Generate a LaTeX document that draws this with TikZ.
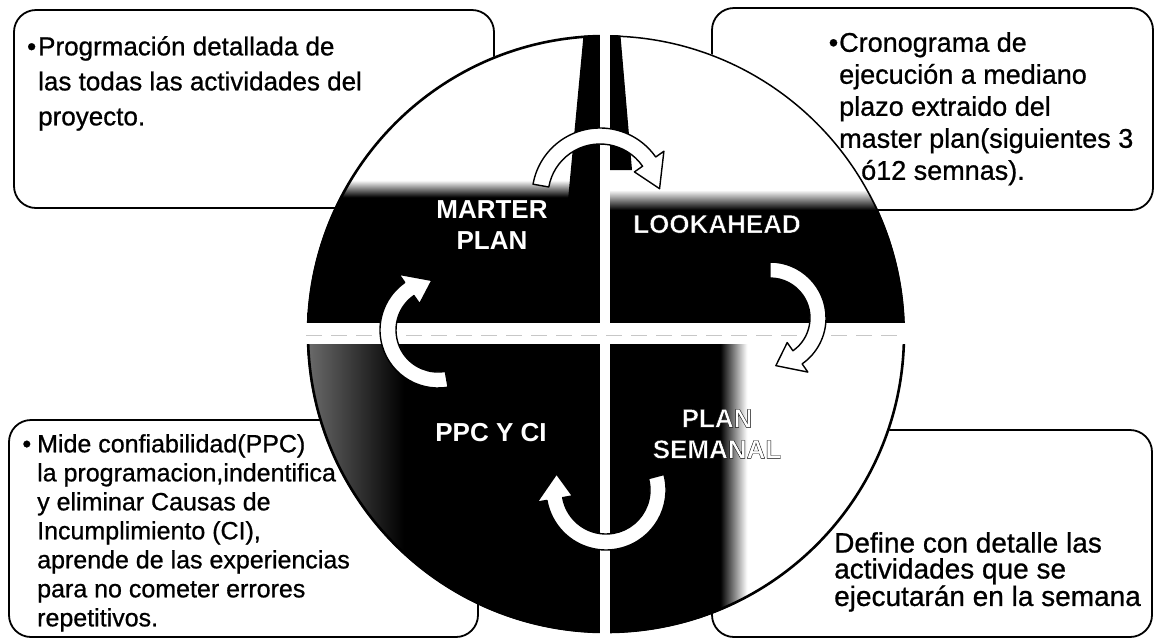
\documentclass[tikz,border=0pt]{standalone}
\usepackage{fontspec}
\setmainfont{Liberation Sans}
\newfontfamily\notefont{Liberation Sans}[FakeBold=0.8]
\newfontfamily\ringfont{Liberation Sans}[BoldFeatures={FakeBold=1.4}]
\usetikzlibrary{positioning}

% fades of the four quarters
\pgfdeclareverticalshading{tlfade}{100bp}{color(0bp)=(black); color(47.5bp)=(black); color(50.3bp)=(white); color(100bp)=(white)}
\pgfdeclareverticalshading{trfade}{100bp}{color(0bp)=(black); color(45.4bp)=(black); color(48.7bp)=(white); color(100bp)=(white)}
\pgfdeclarehorizontalshading{brfade}{100bp}{color(0bp)=(black); color(43.8bp)=(black); color(48.2bp)=(white); color(100bp)=(white)}
\pgfdeclarehorizontalshading{blfade}{100bp}{color(0bp)=(black!55); color(25bp)=(black!55); color(42bp)=(black); color(100bp)=(black)}

% black rim round the white label letters
\newcommand{\rim}{\special{pdf:literal direct 0 G}}

% curved white arrow: centre x, centre y, radius, from angle, to angle
\newcommand{\wheelarrow}[5]{%
  \pgfmathsetmacro{\wro}{#3+8}\pgfmathsetmacro{\wri}{#3-8}%
  \pgfmathsetmacro{\who}{#3+18}\pgfmathsetmacro{\whi}{#3-18}%
  \pgfmathsetmacro{\wtip}{#5+28}%
  \filldraw[arrowbody, shift={(#1,#2)}]
    (#4:\wro) arc[start angle=#4, end angle=#5, radius=\wro]
    -- (#5:\who) -- (\wtip:#3) -- (#5:\whi) -- (#5:\wri)
    arc[start angle=#5, end angle=#4, radius=\wri] -- cycle;}

\begin{document}
\begin{tikzpicture}[x=1pt, y=-1pt,
  infobox/.style={draw=black, line width=1.8pt, rounded corners=22pt, fill=white},
  boxtext/.style 2 args={anchor=north west, align=left, inner sep=0pt, font=\notefont\fontsize{#1}{#2}\selectfont},
  steplabel/.style={text=white, align=center, inner sep=0pt, font=\bfseries\fontsize{26}{31}\selectfont},
  rimlabel/.style={steplabel, font=\ringfont\bfseries\fontsize{26}{31}\selectfont},
  arrowbody/.style={fill=white, draw=black, line width=1.4pt, line join=round}]
\useasboundingbox (0,0) rectangle (1161,641);

% note boxes
\draw[infobox] (14,10) rectangle (494,208);
\draw[infobox] (712,8) rectangle (1153,210);
\draw[infobox] (9,420) rectangle (478,637);
\draw[infobox] (712,430) rectangle (1152,637);

% wheel
\begin{scope}
  \clip (606,334) circle[radius=299];
  \shade[shading=tlfade] (300,30) rectangle (606,334);
  \shade[shading=trfade] (606,30) rectangle (910,334);
  \shade[shading=blfade] (300,334) rectangle (606,640);
  \shade[shading=brfade] (606,334) rectangle (910,640);
  % dark strips along the divider
  \fill[black] (584,30) -- (606,30) -- (606,200) -- (568,200) -- cycle;
  \fill[black] (606,30) -- (620,30) -- (632,170) -- (606,170) -- cycle;
\end{scope}
\draw[line width=2.6pt] (606,334) ++(180:298) arc[start angle=180, end angle=270, radius=298];
\draw[line width=1.5pt] (606,334) ++(270:298) arc[start angle=270, end angle=360, radius=298];
\draw[line width=2.6pt] (606,334) ++(0:298) arc[start angle=0, end angle=180, radius=298];

% gaps between the quarters
\fill[white] (600,25) rectangle (610,645);
\fill[white] (295,323) rectangle (915,344);
\draw[black!22, line width=0.6pt, dash pattern=on 16pt off 9pt] (306,335) -- (904,335);

% cycle arrows
\wheelarrow{600}{196}{60}{190}{325}
\wheelarrow{770}{318}{48}{-90}{55}
\wheelarrow{606}{490}{52}{-15}{170}
\wheelarrow{438}{330}{50}{80}{235}

% quarter labels
\node[steplabel] (master) at (492,225) {MARTER\\PLAN};
\node[rimlabel] (lookahead) at (717,224) {\rim LOOKAHEAD};
\node[steplabel] (ppc) at (491,433) {PPC Y CI};
\node[rimlabel] (weekly) at (717,434) {\rim PLAN\\\rim SEMANAL};

% notes
\node[boxtext={26}{35}] (masternote) at (38,36) {\llap{\textbullet\hspace{2pt}}Progrmación detallada de\\las todas las actividades del\\proyecto.};
\node[boxtext={27}{32}] (lookaheadnote) at (839,32) {\llap{\textbullet\hspace{1pt}}Cronograma de\\ejecución a mediano\\plazo extraido del\\master plan(siguientes 3\\\hspace*{22pt}ó12 semnas).};
\node[boxtext={25}{29}] (ppcnote) at (37,434) {\llap{\textbullet\hspace{6pt}}Mide confiabilidad(PPC)\\la programacion,indentifica\\y eliminar Causas de\\Incumplimiento (CI),\\aprende de las experiencias\\para no cometer errores\\repetitivos.};
\node[boxtext={28}{26}] (weeklynote) at (834,532) {Define con detalle las\\actividades que se\\ejecutarán en la semana};

\end{tikzpicture}
\end{document}
